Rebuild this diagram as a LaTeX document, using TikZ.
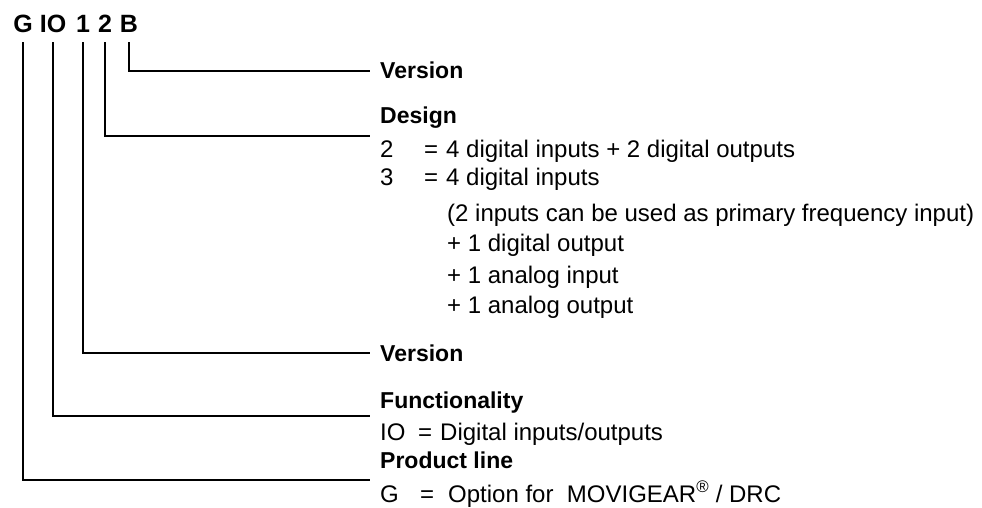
\documentclass[tikz,border=0pt]{standalone}
\usepackage{fontspec}
\setmainfont{Liberation Sans}
\usetikzlibrary{positioning}

\tikzset{
  code/.style={inner sep=0pt, anchor=base, font=\fontsize{25}{30}\selectfont\bfseries},
  head/.style={inner sep=0pt, anchor=base west, font=\fontsize{23}{27}\selectfont\bfseries},
  desc/.style={inner sep=0pt, anchor=base west, font=\fontsize{24}{28}\selectfont},
  lead/.style={line width=2.6pt},
}
% key, "=" and the gap before the text
\newcommand{\keyeq}[2][22pt]{\makebox[44pt][l]{#2}\makebox[#1][l]{=}}

\begin{document}
\begin{tikzpicture}[x=1pt, y=-1pt]
  \useasboundingbox (0,0) rectangle (982,507);

  % type designation
  \node[code] (cG) at (23,32) {G};
  \node[code] (cIO) at (53,32) {IO};
  \node[code] (c1) at (83,32) {1};
  \node[code] (c2) at (105,32) {2};
  \node[code] (cB) at (129,32) {B};

  % ends of the leader lines
  \coordinate (eB) at (370,71);
  \coordinate (e2) at (370,136);
  \coordinate (e1) at (370,353);
  \coordinate (eIO) at (370,416);
  \coordinate (eG) at (370,480);

  % explanations
  \node[head] (verB) at (380,78) {Version};
  \node[head] (design) at (380,123) {Design};
  \node[desc] (d2) at (380,157) {\keyeq{2}4 digital inputs + 2 digital outputs};
  \node[desc] (d3) at (380,185) {\keyeq{3}4 digital inputs};
  \node[desc] (d3a) at (447,221) {(2 inputs can be used as primary frequency input)};
  \node[desc] (d3b) at (447,251) {+ 1 digital output};
  \node[desc] (d3c) at (447,283) {+ 1 analog input};
  \node[desc] (d3d) at (447,313) {+ 1 analog output};
  \node[head] (ver1) at (380,361) {Version};
  \node[head] (func) at (380,408) {Functionality};
  \node[desc] (dIO) at (380,440) {\makebox[38pt][l]{IO}\makebox[22pt][l]{=}Digital inputs/outputs};
  \node[head] (prod) at (380,468) {Product line};
  \node[desc] (dG) at (380,502) {\makebox[40pt][l]{G}\makebox[28pt][l]{=}Option for\ \ MOVIGEAR\textsuperscript{®} / DRC};

  \draw[lead] ([yshift=-10pt]cB.south) |- (eB);
  \draw[lead] ([yshift=-10pt]c2.south) |- (e2);
  \draw[lead] ([yshift=-10pt]c1.south) |- (e1);
  \draw[lead] ([yshift=-10pt]cIO.south) |- (eIO);
  \draw[lead] ([yshift=-10pt]cG.south) |- (eG);
\end{tikzpicture}
\end{document}
